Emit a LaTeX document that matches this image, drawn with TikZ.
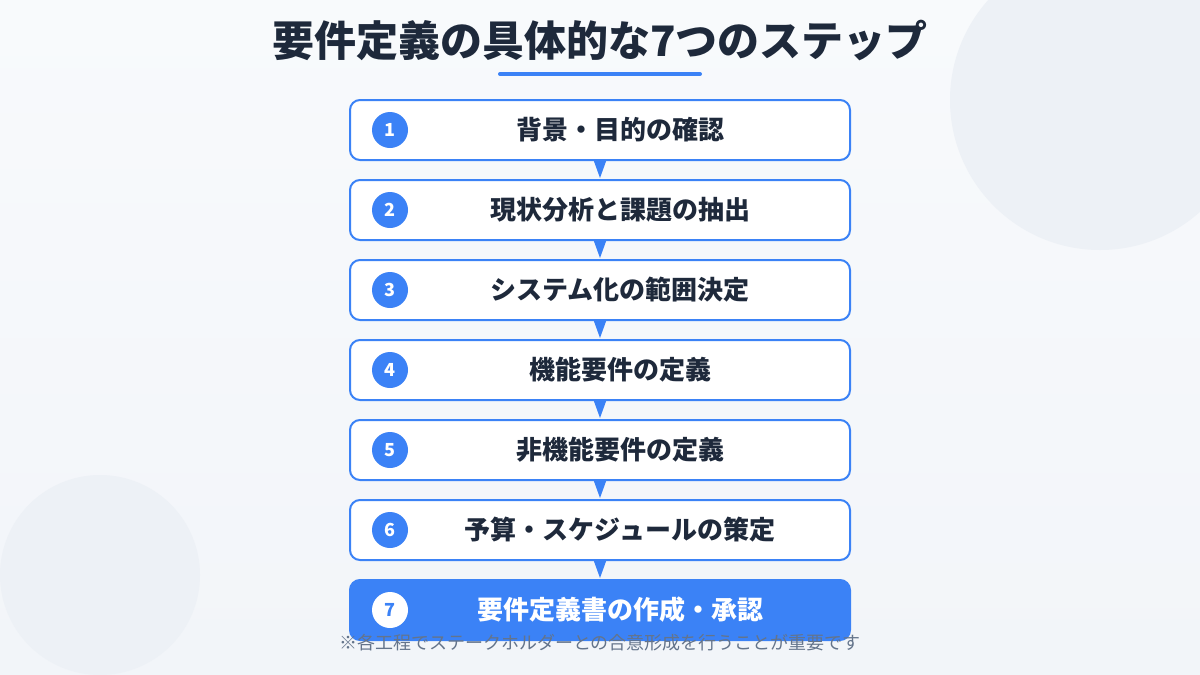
\documentclass[tikz,border=0pt]{standalone}
\usepackage{fontspec}
\setmainfont{Noto Sans CJK JP}
\usetikzlibrary{calc}
\definecolor{bgA}{HTML}{F8FAFC}
\definecolor{bgB}{HTML}{F2F5F9}
\definecolor{deco}{HTML}{EDF1F6}
\definecolor{accent}{HTML}{3B82F6}
\definecolor{ink}{HTML}{1E293B}
\definecolor{muted}{HTML}{64748B}
\begin{document}
\begin{tikzpicture}[x=1pt,y=-1pt,
  stepbox/.style={draw=accent, line width=2pt, fill=white, rounded corners=10pt, minimum width=500pt, minimum height=60pt, inner sep=0pt},
  lastbox/.style={stepbox, fill=accent},
  num/.style={circle, fill=accent, text=white, minimum size=36pt, inner sep=0pt, font=\bfseries\fontsize{18}{18}\selectfont},
  lastnum/.style={num, fill=white, text=accent},
  steplabel/.style={text=ink, inner sep=0pt, font=\bfseries\fontsize{26}{30}\selectfont},
  lastlabel/.style={steplabel, text=white},
  tri/.style={fill=accent}
]
\useasboundingbox (0,0) rectangle (1200,675);
\shade[top color=bgA, bottom color=bgB] (0,0) rectangle (1200,675);
\fill[deco] (1100,100) circle (150);
\fill[deco] (100,575) circle (100);

\node[text=ink, inner sep=0pt, font=\bfseries\fontsize{42}{48}\selectfont] (title) at (600,40) {要件定義の具体的な7つのステップ};
\draw[accent, line width=4pt, line cap=round] (500,74) -- (700,74);

\node[stepbox] (b1) at (600,130) {};
\node[stepbox] (b2) at (600,210) {};
\node[stepbox] (b3) at (600,290) {};
\node[stepbox] (b4) at (600,370) {};
\node[stepbox] (b5) at (600,450) {};
\node[stepbox] (b6) at (600,530) {};
\node[lastbox] (b7) at (600,610) {};

\foreach \a/\b in {b1/b2,b2/b3,b3/b4,b4/b5,b5/b6,b6/b7}
  \fill[tri] ($(\a.south)+(-6.5,-1)$) -- ($(\a.south)+(6.5,-1)$) -- ($(\b.north)+(0,-1)$) -- cycle;

\node[num] (n1) at (390,130) {1};
\node[num] (n2) at (390,210) {2};
\node[num] (n3) at (390,290) {3};
\node[num] (n4) at (390,370) {4};
\node[num] (n5) at (390,450) {5};
\node[num] (n6) at (390,530) {6};
\node[lastnum] (n7) at (390,610) {7};

\node[steplabel] (t1) at (620,130) {背景・目的の確認};
\node[steplabel] (t2) at (620,210) {現状分析と課題の抽出};
\node[steplabel] (t3) at (620,290) {システム化の範囲決定};
\node[steplabel] (t4) at (620,370) {機能要件の定義};
\node[steplabel] (t5) at (620,450) {非機能要件の定義};
\node[steplabel] (t6) at (620,530) {予算・スケジュールの策定};
\node[lastlabel] (t7) at (620,610) {要件定義書の作成・承認};

\node[text=muted, inner sep=0pt, font=\fontsize{18}{20}\selectfont] (note) at (600,643) {※各工程でステークホルダーとの合意形成を行うことが重要です};
\end{tikzpicture}
\end{document}
